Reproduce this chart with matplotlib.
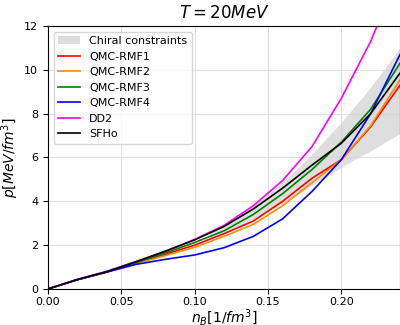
import matplotlib
matplotlib.use("Agg")
import matplotlib.pyplot as plt
import numpy as np

n = [0, 0.02, 0.04, 0.06, 0.08, 0.10, 0.12, 0.14, 0.16, 0.18, 0.20, 0.22, 0.24]
rmf1 = [0, 0.42, 0.77, 1.18, 1.58, 2.00, 2.52, 3.10, 4.00, 5.05, 5.90, 7.40, 9.30]
rmf2 = [0, 0.42, 0.76, 1.16, 1.52, 1.90, 2.40, 2.95, 3.80, 4.85, 5.90, 7.45, 9.55]
rmf3 = [0, 0.42, 0.77, 1.20, 1.64, 2.12, 2.65, 3.40, 4.35, 5.45, 6.70, 8.20, 10.30]
rmf4 = [0, 0.42, 0.77, 1.12, 1.35, 1.55, 1.88, 2.40, 3.20, 4.45, 5.90, 8.00, 10.70]
dd2 = [0, 0.43, 0.80, 1.25, 1.72, 2.26, 2.90, 3.80, 4.95, 6.50, 8.70, 11.30, 14.50]
sfho = [0, 0.43, 0.79, 1.24, 1.72, 2.24, 2.85, 3.65, 4.60, 5.65, 6.65, 8.00, 9.85]

band_n = [0.11, 0.12, 0.13, 0.14, 0.15, 0.16, 0.17, 0.18, 0.19, 0.20, 0.21, 0.22, 0.23, 0.24]
band_hi = [2.55, 2.95, 3.35, 3.80, 4.30, 4.90, 5.50, 6.15, 6.90, 7.60, 8.40, 9.20, 10.10, 11.00]
band_lo = [2.30, 2.55, 2.85, 3.20, 3.55, 3.90, 4.30, 4.75, 5.15, 5.55, 5.95, 6.30, 6.70, 7.10]

fig = plt.figure(figsize=(4, 3.25), dpi=100)
ax = fig.add_axes([0.12, 0.111, 0.88, 0.809])
ax.fill_between(band_n, band_lo, band_hi, color='#d3d3d3', alpha=0.75, lw=0, label='Chiral constraints')
ax.plot(n, rmf1, color='red', lw=1.2, label='QMC-RMF1')
ax.plot(n, rmf2, color='darkorange', lw=1.2, label='QMC-RMF2')
ax.plot(n, rmf3, color='green', lw=1.2, label='QMC-RMF3')
ax.plot(n, rmf4, color='blue', lw=1.2, label='QMC-RMF4')
ax.plot(n, dd2, color='magenta', lw=1.2, label='DD2')
ax.plot(n, sfho, color='black', lw=1.2, label='SFHo')
ax.set_xlim(0, 0.24)
ax.set_ylim(0, 12)
ax.set_xticks([0, 0.05, 0.10, 0.15, 0.20])
ax.set_xticklabels(['0.00', '0.05', '0.10', '0.15', '0.20'])
ax.set_yticks([0, 2, 4, 6, 8, 10, 12])
ax.tick_params(labelsize=8)
ax.tick_params(axis='x', pad=2.5)
ax.grid(True, color='#e0e0e0', lw=0.8)
ax.set_axisbelow(True)
ax.set_title('$T = 20MeV$', fontsize=12)
ax.set_xlabel('$n_B[1/fm^3]$', fontsize=10, labelpad=0)
ax.set_ylabel('$p[MeV/fm^3]$', fontsize=10, labelpad=2)
ax.legend(loc='upper left', fontsize=8, framealpha=0.8)
fig.savefig('out.png', dpi=100)
